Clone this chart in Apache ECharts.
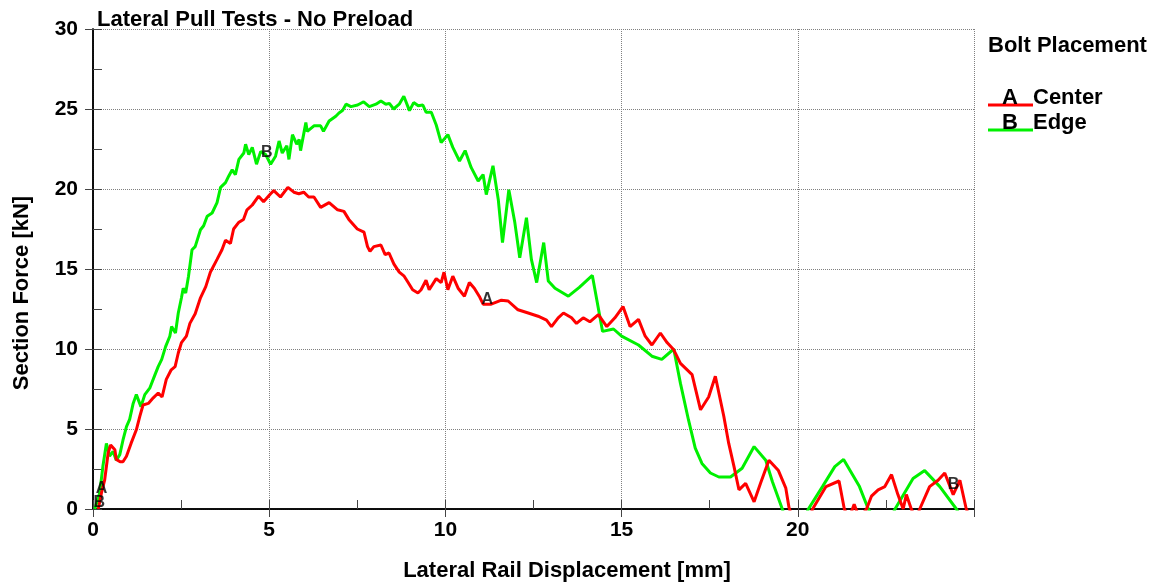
<!DOCTYPE html>
<html>
<head>
<meta charset="utf-8">
<script src="https://cdn.jsdelivr.net/npm/echarts@6/dist/echarts.min.js"></script>
<style>
html,body{margin:0;padding:0;background:#fff;}
#chart{width:1153px;height:586px;}
</style>
</head>
<body>
<div id="chart"></div>
<script>
// ---- data ----
var titleText = 'Lateral Pull Tests - No Preload';
var xAxisName = 'Lateral Rail Displacement [mm]';
var yAxisName = 'Section Force [kN]';
var legendTitle = 'Bolt Placement';
var seriesNames = ['Center', 'Edge'];
var seriesLetters = ['A', 'B'];

var centerX = [0.15,0.24,0.33,0.43,0.5,0.62,0.66,0.77,0.85,0.95,1.08,1.23,1.33,1.42,1.57,1.71,1.85,1.96,2.08,2.22,2.33,2.42,2.51,2.65,2.75,2.9,3.05,3.2,3.33,3.52,3.66,3.76,3.9,3.99,4.13,4.27,4.37,4.52,4.7,4.84,5.04,5.13,5.32,5.53,5.7,5.84,5.98,6.12,6.27,6.46,6.7,6.94,7.12,7.26,7.5,7.69,7.79,7.86,7.97,8.17,8.29,8.4,8.54,8.69,8.83,8.93,9.07,9.22,9.31,9.45,9.54,9.74,9.88,9.96,10.07,10.21,10.36,10.54,10.68,10.82,10.96,11.07,11.3,11.59,11.78,12.06,12.35,12.63,12.87,13.01,13.2,13.35,13.58,13.72,13.91,14.1,14.34,14.58,14.81,15.04,15.24,15.48,15.67,15.86,16.1,16.29,16.48,16.67,17.0,17.24,17.47,17.66,17.9,18.04,18.19,18.33,18.52,18.76,18.94,19.18,19.45,19.66,19.75,19.9,20.25,20.42,20.8,21.17,21.32,21.45,21.6,21.75,21.95,22.09,22.28,22.47,22.66,22.84,22.99,23.08,23.22,23.35,23.46,23.74,23.98,24.17,24.41,24.6,24.78,24.9];
var centerY = [0,1.0,1.8,3.5,4.0,3.7,3.1,2.95,2.95,3.3,4.1,4.95,5.8,6.5,6.6,6.95,7.25,7.0,8.1,8.7,8.9,9.75,10.4,10.8,11.6,12.2,13.2,13.9,14.8,15.6,16.2,16.8,16.6,17.5,17.9,18.1,18.7,19.0,19.55,19.2,19.7,19.9,19.5,20.1,19.8,19.7,19.8,19.5,19.5,18.85,19.15,18.7,18.6,18.1,17.5,17.3,16.4,16.1,16.4,16.5,15.9,16.0,15.3,14.8,14.55,14.2,13.7,13.5,13.7,14.3,13.7,14.4,14.15,14.8,13.7,14.55,13.8,13.3,14.15,13.8,13.3,12.8,12.8,13.05,13.0,12.45,12.25,12.05,11.8,11.4,11.95,12.25,11.95,11.6,11.95,11.7,12.15,11.4,11.95,12.65,11.4,11.85,10.8,10.25,11.0,10.4,9.95,9.1,8.4,6.2,7.0,8.3,5.8,4.1,2.65,1.2,1.6,0.45,1.6,3.05,2.4,1.3,0.1,-1.0,-1.0,0,1.4,1.75,0,-0.6,0.3,-0.6,0,0.8,1.2,1.4,2.15,0.9,0,0.9,0,-0.6,0,1.4,1.8,2.25,0.9,1.8,0,-0.6];

var edgeX = [0.05,0.19,0.28,0.38,0.47,0.57,0.66,0.76,0.85,0.95,1.04,1.14,1.23,1.36,1.47,1.61,1.76,1.85,1.95,2.06,2.18,2.23,2.34,2.42,2.51,2.56,2.63,2.71,2.81,2.9,3.05,3.14,3.24,3.38,3.52,3.62,3.76,3.85,3.95,4.04,4.14,4.28,4.33,4.42,4.52,4.64,4.76,4.9,5.04,5.18,5.28,5.37,5.5,5.56,5.66,5.78,5.85,5.89,6.04,6.08,6.27,6.46,6.54,6.7,6.89,6.98,7.08,7.18,7.32,7.51,7.68,7.84,8.03,8.17,8.31,8.41,8.53,8.69,8.82,8.98,9.1,9.23,9.36,9.45,9.6,9.74,9.88,10.07,10.21,10.4,10.56,10.73,10.93,11.07,11.16,11.35,11.5,11.62,11.8,11.97,12.11,12.3,12.44,12.59,12.79,12.92,13.11,13.49,13.8,14.17,14.46,14.77,15.0,15.48,15.86,16.14,16.48,16.67,16.9,17.09,17.28,17.52,17.76,18.09,18.42,18.76,19.09,19.28,19.56,19.7,20.1,20.3,20.7,21.05,21.3,21.75,22.0,22.3,22.55,22.76,23.27,23.6,24.03,24.5,24.7];
var edgeY = [0,1.0,2.65,4.1,3.3,3.6,3.05,3.4,4.3,5.15,5.6,6.6,7.15,6.4,7.15,7.55,8.4,8.9,9.35,10.15,10.8,11.4,11.0,12.25,13.2,13.8,13.5,14.55,16.2,16.4,17.45,17.7,18.3,18.5,19.15,20.1,20.4,20.8,21.2,20.9,21.85,22.25,22.8,22.15,22.6,21.55,22.35,22.15,21.55,22.05,23.0,22.25,22.7,21.85,23.4,22.8,23.1,22.4,24.15,23.6,23.95,23.95,23.6,24.25,24.55,24.75,24.9,25.3,25.15,25.25,25.45,25.15,25.3,25.5,25.3,25.35,25.0,25.3,25.8,24.9,25.4,25.2,25.25,24.8,24.8,24.0,22.9,23.4,22.6,21.75,22.4,21.35,20.5,20.9,19.65,21.45,19.35,16.65,19.95,17.9,15.7,18.2,15.6,14.15,16.65,14.25,13.8,13.3,13.85,14.6,11.1,11.25,10.8,10.25,9.55,9.35,10.0,7.85,5.55,3.8,2.85,2.25,2.0,2.0,2.55,3.9,3.05,1.7,0,-1.0,-1.0,0,1.4,2.65,3.1,1.4,0,-1.0,-1.0,0,1.9,2.4,1.4,0,-0.8];

// letter markers on the curves
var markerX = [0.24, 0.18, 11.19, 4.93, 24.42];
var markerY = [1.25, 0.4, 13.1, 22.3, 1.5];
var markerText = ['A', 'B', 'A', 'B', 'B'];

var xTicks = {min: 0, max: 25, interval: 5};
var yTicks = {min: 0, max: 30, interval: 5};

// ---- chart ----
var FONT = '"Liberation Sans", Arial, sans-serif';
function pairs(xs, ys) { return xs.map(function (x, i) { return [x, ys[i]]; }); }
var chart = echarts.init(document.getElementById('chart'), null, {renderer: 'canvas'});
var black = '#000';
var GREEN = '#00f000';
var RED = '#ff0000';
var labelStyle = {fontFamily: FONT, fontWeight: 'bold', fontSize: 21, color: black};
var bigFont = 'bold 22px "Liberation Sans", Arial, sans-serif';

var option = {
  backgroundColor: '#fff',
  animation: false,
  title: {
    text: titleText, left: 92, top: 4,
    textStyle: {fontFamily: FONT, fontWeight: 'bold', fontSize: 22, color: black}
  },
  grid: {left: 93, right: 179, top: 29, bottom: 77, containLabel: false},
  xAxis: [
    {
      type: 'value', position: 'bottom', min: xTicks.min, max: xTicks.max, interval: xTicks.interval,
      axisLine: {show: true, lineStyle: {color: black, width: 1.5}},
      axisTick: {show: true, inside: false, length: 8, lineStyle: {color: '#444'}},
      axisLabel: Object.assign({margin: 11, showMaxLabel: false}, labelStyle),
      splitLine: {show: true, lineStyle: {color: '#808080', type: 'dotted', width: 1}}
    },
    {
      type: 'value', position: 'bottom', min: xTicks.min, max: xTicks.max, interval: xTicks.interval,
      axisLine: {show: false},
      axisTick: {show: true, inside: true, length: 9, lineStyle: {color: '#444'}},
      minorTick: {show: true, splitNumber: 2, length: 9, lineStyle: {color: '#444'}},
      axisLabel: {show: false}, splitLine: {show: false}
    },
    {
      type: 'value', position: 'top', min: xTicks.min, max: xTicks.max, interval: xTicks.interval,
      axisLine: {show: true, lineStyle: {color: black, width: 1.5}},
      axisTick: {show: true, inside: true, length: 8, lineStyle: {color: '#444'}},
      axisLabel: {show: false}, splitLine: {show: false}
    }
  ],
  yAxis: [
    {
      type: 'value', position: 'left', min: yTicks.min, max: yTicks.max, interval: yTicks.interval,
      axisLine: {show: true, lineStyle: {color: black, width: 1.5}},
      axisTick: {show: true, inside: false, length: 8, lineStyle: {color: '#444'}},
      axisLabel: Object.assign({margin: 15}, labelStyle),
      splitLine: {show: true, lineStyle: {color: '#808080', type: 'dotted', width: 1}}
    },
    {
      type: 'value', position: 'left', min: yTicks.min, max: yTicks.max, interval: yTicks.interval,
      axisLine: {show: false},
      axisTick: {show: true, inside: true, length: 9, lineStyle: {color: '#444'}},
      minorTick: {show: true, splitNumber: 2, length: 9, lineStyle: {color: '#444'}},
      axisLabel: {show: false}, splitLine: {show: false}
    },
    {
      type: 'value', position: 'right', min: yTicks.min, max: yTicks.max, interval: yTicks.interval,
      axisLine: {show: true, lineStyle: {color: black, width: 1.5}},
      axisTick: {show: true, inside: true, length: 8, lineStyle: {color: '#444'}},
      axisLabel: {show: false}, splitLine: {show: false}
    }
  ],
  series: [
    {
      name: seriesNames[0], type: 'line', xAxisIndex: 0, yAxisIndex: 0,
      data: pairs(centerX, centerY), showSymbol: false, symbol: 'none', clip: true,
      lineStyle: {color: RED, width: 3}, z: 3
    },
    {
      name: seriesNames[1], type: 'line', xAxisIndex: 0, yAxisIndex: 0,
      data: pairs(edgeX, edgeY), showSymbol: false, symbol: 'none', clip: true,
      lineStyle: {color: GREEN, width: 3}, z: 2
    },
    {
      type: 'scatter', xAxisIndex: 0, yAxisIndex: 0, z: 5,
      data: markerX.map(function (x, i) { return {value: [x, markerY[i]], name: markerText[i]}; }),
      symbolSize: 1, itemStyle: {color: 'rgba(0,0,0,0)'},
      label: {show: true, position: 'inside', formatter: '{b}', fontFamily: FONT, fontWeight: 'bold', fontSize: 16, color: black},
      silent: true
    }
  ],
  graphic: [
    {type: 'text', x: 22, y: 293, rotation: Math.PI / 2,
     style: {text: yAxisName, font: bigFont, fill: black, align: 'center', verticalAlign: 'middle'}},
    {type: 'text', x: 567, y: 571,
     style: {text: xAxisName, font: bigFont, fill: black, align: 'center', verticalAlign: 'middle'}},
    {type: 'text', x: 988, y: 46, style: {text: legendTitle, font: bigFont, fill: black, align: 'left', verticalAlign: 'middle'}},
    {type: 'line', shape: {x1: 988, y1: 105, x2: 1033, y2: 105}, style: {stroke: RED, lineWidth: 3}},
    {type: 'text', x: 1010, y: 98, style: {text: seriesLetters[0], font: bigFont, fill: black, align: 'center', verticalAlign: 'middle'}},
    {type: 'text', x: 1033, y: 98, style: {text: seriesNames[0], font: bigFont, fill: black, align: 'left', verticalAlign: 'middle'}},
    {type: 'line', shape: {x1: 988, y1: 130, x2: 1033, y2: 130}, style: {stroke: GREEN, lineWidth: 3}},
    {type: 'text', x: 1010, y: 123, style: {text: seriesLetters[1], font: bigFont, fill: black, align: 'center', verticalAlign: 'middle'}},
    {type: 'text', x: 1033, y: 123, style: {text: seriesNames[1], font: bigFont, fill: black, align: 'left', verticalAlign: 'middle'}}
  ]
};
chart.setOption(option);
</script>
</body>
</html>
